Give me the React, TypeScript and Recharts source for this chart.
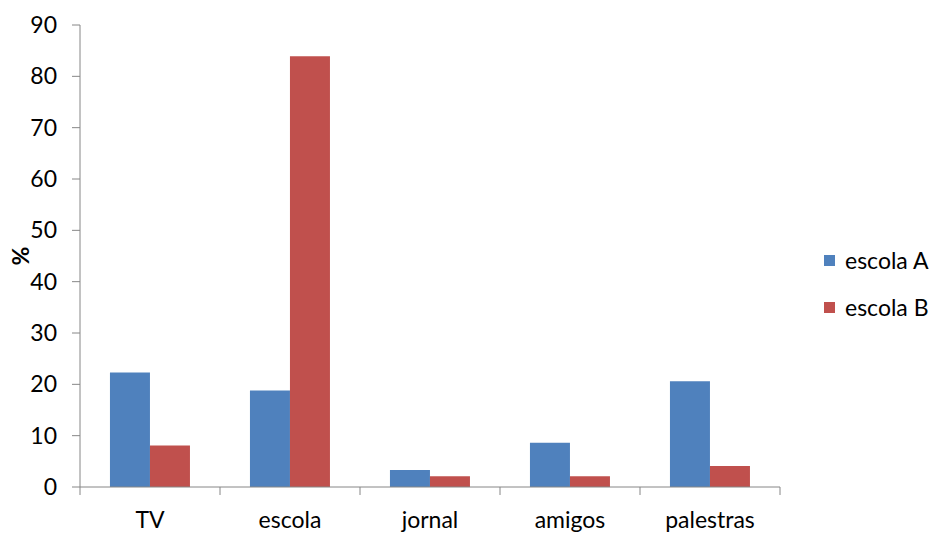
import React from 'react';
import { BarChart, Bar, XAxis, YAxis } from 'recharts';

const categories = ['TV', 'escola', 'jornal', 'amigos', 'palestras'];
const escolaA = [22.3, 18.8, 3.3, 8.6, 20.6];
const escolaB = [8.1, 83.9, 2.1, 2.1, 4.1];
const yTicks = [0, 10, 20, 30, 40, 50, 60, 70, 80, 90];
const seriesNames = ['escola A', 'escola B'];
const seriesColors = ['#4F81BD', '#C0504D'];

const data = categories.map((c, i) => ({ name: c, a: escolaA[i], b: escolaB[i] }));

const FONT = 'Lato, "Noto Sans", sans-serif';
const AXIS = '#868686';

const CategoryTick = (props: any) => {
  const { x, y, payload, index, visibleTicksCount } = props;
  const half = payload && typeof payload.offset === 'number' ? payload.offset : 70;
  const top = y - 8;
  const last = index === (visibleTicksCount ?? categories.length) - 1;
  return (
    <g>
      <line x1={x - half} y1={top} x2={x - half} y2={top + 8} stroke={AXIS} />
      {last && <line x1={x + half} y1={top} x2={x + half} y2={top + 8} stroke={AXIS} />}
      <text x={x} y={top + 41} textAnchor="middle" fontFamily={FONT} fontSize={23} fill="#000">
        {payload.value}
      </text>
    </g>
  );
};

const PercentLabel = (props: any) => {
  const vb = props.viewBox || { x: 0, y: 25, width: 80, height: 462 };
  const cx = vb.x + 20;
  const cy = vb.y + vb.height / 2;
  return (
    <text x={cx} y={cy} transform={`rotate(-90 ${cx} ${cy})`} textAnchor="middle" dominantBaseline="central"
      fontFamily={FONT} fontSize={23} fontWeight="bold" fill="#000">
      %
    </text>
  );
};

const LegendBox = () => (
  <div style={{ position: 'absolute', left: 824, top: 248, width: 111, fontFamily: FONT, fontSize: 23, color: '#000' }}>
    {seriesNames.map((n, i) => (
      <div key={n} style={{ display: 'flex', alignItems: 'center', height: 24, marginBottom: i === 0 ? 23 : 0 }}>
        <span style={{ display: 'inline-block', width: 11, height: 11, background: seriesColors[i], marginRight: 10 }} />
        <span>{n}</span>
      </div>
    ))}
  </div>
);

export default function App() {
  return (
    <div style={{ position: 'absolute', left: 0, top: 0, width: 935, height: 534, background: '#fff' }}>
      <BarChart width={935} height={534} data={data} margin={{ top: 25, right: 155, bottom: 0, left: 0 }}
        barCategoryGap="21.4%" barGap={0}>
        <XAxis dataKey="name" height={47} axisLine={{ stroke: AXIS }} tickLine={false} tickSize={8} tickMargin={0}
          tick={<CategoryTick />} interval={0} />
        <YAxis width={80} domain={[0, 90]} ticks={yTicks} interval={0} axisLine={{ stroke: AXIS }}
          tickLine={{ stroke: AXIS }} tickSize={8} tickMargin={15}
          tick={{ fontFamily: FONT, fontSize: 23, fill: '#000' }} label={<PercentLabel />} />
        <Bar dataKey="a" name={seriesNames[0]} fill={seriesColors[0]} isAnimationActive={false} />
        <Bar dataKey="b" name={seriesNames[1]} fill={seriesColors[1]} isAnimationActive={false} />
      </BarChart>
      <LegendBox />
    </div>
  );
}
